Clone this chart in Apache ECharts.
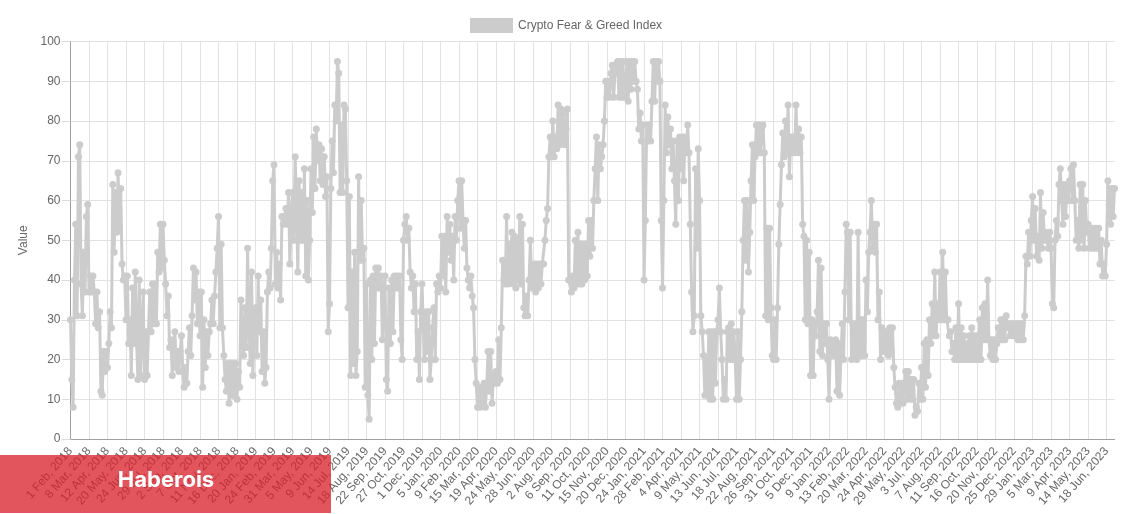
<!DOCTYPE html>
<html><head><meta charset="utf-8">
<style>html,body{margin:0;padding:0;background:#fff}#c{width:1131px;height:514px}</style>
<script src="https://cdn.jsdelivr.net/npm/echarts@6/dist/echarts.min.js"></script>
</head><body><div id="c"></div>
<script>
const seriesName = 'Crypto Fear & Greed Index';
const brand = 'Haberois';
const yTicks = [0,10,20,30,40,50,60,70,80,90,100];
const tickLabels = ['1 Feb, 2018','8 Mar, 2018','12 Apr, 2018','20 May, 2018','24 Jun, 2018','29 Jul, 2018','2 Sep, 2018','7 Oct, 2018','11 Nov, 2018','16 Dec, 2018','20 Jan, 2019','24 Feb, 2019','31 Mar, 2019','5 May, 2019','9 Jun, 2019','14 Jul, 2019','18 Aug, 2019','22 Sep, 2019','27 Oct, 2019','1 Dec, 2019','5 Jan, 2020','9 Feb, 2020','15 Mar, 2020','19 Apr, 2020','24 May, 2020','28 Jun, 2020','2 Aug, 2020','6 Sep, 2020','11 Oct, 2020','15 Nov, 2020','20 Dec, 2020','24 Jan, 2021','28 Feb, 2021','4 Apr, 2021','9 May, 2021','13 Jun, 2021','18 Jul, 2021','22 Aug, 2021','26 Sep, 2021','31 Oct, 2021','5 Dec, 2021','9 Jan, 2022','13 Feb, 2022','20 Mar, 2022','24 Apr, 2022','29 May, 2022','3 Jul, 2022','7 Aug, 2022','11 Sep, 2022','16 Oct, 2022','20 Nov, 2022','25 Dec, 2022','29 Jan, 2023','5 Mar, 2023','9 Apr, 2023','14 May, 2023','18 Jun, 2023'];
// fourteen readings per labelled tick span
const values2018 = [
30,15,8,40,54,31,71,74,39,31,47,37,56,59,
37,41,37,41,37,29,37,28,32,12,11,22,17,22,
18,24,32,28,64,47,62,52,67,53,63,44,40,41,
30,41,24,30,16,38,24,42,25,15,40,16,27,37,
15,27,16,27,37,27,39,29,39,29,47,42,54,43,
54,45,39,31,36,23,25,16,22,27,18,22,17,22,
26,17,13,18,14,22,28,21,31,43,35,42,29,37,
26,37,13,30,18,27,21,27,29,35,29,36,42,48,
56,28,49,28,21,15,12,19,9,19,11,19,11,19,
10,17,13,35,27,21,33,23,48,30,19,42,16,30];
const values2019 = [
33,21,41,27,35,17,27,14,18,37,42,38,48,65,
69,39,47,38,44,35,56,54,56,58,54,62,44,56,
62,50,71,59,42,65,50,62,50,68,41,60,40,50,
68,57,76,63,78,70,74,65,73,64,71,61,66,27,
34,63,75,67,84,80,95,92,62,79,62,84,83,65,
33,61,16,42,19,47,16,22,66,45,60,45,48,13,
39,11,5,40,20,41,24,43,38,43,38,41,25,38,
41,15,12,38,24,40,27,41,38,41,38,41,25,20,
50,54,56,50,53,42,38,41,32,39,20,27,15,32,
39,28,20,32,22,32,15,20,28,33,20,39,37,41];
const values2020 = [
38,51,41,51,37,56,47,54,45,51,40,56,50,60,
65,53,65,55,48,55,43,40,38,41,36,33,20,14,
8,12,8,13,9,14,8,14,22,12,22,9,16,14,
17,14,25,15,28,45,40,39,56,39,49,40,52,39,
51,38,50,40,56,39,54,33,31,36,31,40,50,38,
38,44,37,44,38,44,39,44,44,50,55,58,71,76,
71,80,71,76,73,84,74,83,75,82,74,78,83,40,
40,37,41,38,50,39,52,39,49,39,49,40,49,41,
55,46,55,48,60,68,76,60,74,68,71,74,80,90,
86,90,86,92,94,86,92,94,95,86,95,86,95,86];
const values2021 = [
87,95,85,95,88,95,90,95,90,88,78,82,75,79,
40,55,79,75,79,75,85,95,85,95,90,95,90,55,
38,60,84,72,81,74,78,68,75,65,54,75,60,76,
68,76,65,76,72,79,72,54,37,27,31,68,48,73,
60,31,27,21,11,20,11,27,10,27,10,27,14,27,
30,38,27,20,10,15,10,27,28,20,29,20,27,20,
10,27,10,20,32,50,60,45,60,42,52,65,74,60,
71,79,72,79,72,78,79,72,31,53,30,53,33,21,
20,30,20,33,49,59,69,77,71,80,72,84,66,76,
72,76,72,84,72,78,72,76,54,51,30,50,29,47,
16,30,16,29,26,32,45,22,43,21,29,24,29,20];
const values2022 = [
10,25,21,24,21,25,12,24,11,21,29,20,37,54,
52,30,52,20,29,21,29,20,52,21,30,21,30,21,
40,32,47,52,60,48,54,47,54,30,37,20,28,22,
27,22,27,21,28,22,28,18,13,9,8,14,9,14,
9,14,17,10,17,10,15,10,15,6,8,7,14,10,
18,10,24,13,25,16,30,24,34,26,42,26,34,30,
42,30,47,30,42,30,30,26,27,22,24,20,28,20,
34,20,28,20,26,20,24,20,26,20,28,20,26,20,
26,20,30,20,33,25,34,25,40,25,21,25,20,25,
20,24,28,26,30,25,30,25,31,28,29,26,29,26];
const values2023 = [
29,26,29,25,29,25,29,25,31,46,44,52,46,55,
61,50,58,46,51,45,62,48,57,50,52,50,48,52,
48,34,33,50,55,51,64,68,60,54,64,56,63,60,
65,68,60,69,60,50,55,48,64,50,64,48,60,52,
54,48,52,48,53,48,53,48,53,44,50,41,44,41,
49,65,59,54,63,56,63];
const values = [].concat(values2018,values2019,values2020,values2021,values2022,values2023);
const perTick = 14;
const categories = values.map((_,i)=> i%perTick===0 ? (tickLabels[i/perTick]||'') : '');
const grey='#666', mark='#cccccc';
const font='"Liberation Sans", Arial, sans-serif';
const chart = echarts.init(document.getElementById('c'),null,{renderer:'canvas'});
chart.setOption({
  animation:false,
  legend:{top:13,left:465,itemWidth:43,itemHeight:15,itemGap:5,icon:'rect',
    textStyle:{color:grey,fontFamily:font,fontSize:12},data:[seriesName]},
  grid:{left:70.5,top:41.5,width:1044,height:397.5,containLabel:false},
  xAxis:{type:'category',data:categories,boundaryGap:false,
    axisLine:{lineStyle:{color:'#a0a0a0',width:1}},axisTick:{show:false},
    axisLabel:{interval:perTick-1,rotate:49,color:grey,fontFamily:font,fontSize:12,margin:10,hideOverlap:false},
    splitLine:{show:true,interval:perTick-1,lineStyle:{color:'#e2e2e2',width:1}}},
  yAxis:{type:'value',min:yTicks[0],max:yTicks[yTicks.length-1],interval:10,
    name:'Value',nameLocation:'middle',nameGap:41,nameRotate:90,
    nameTextStyle:{color:grey,fontFamily:font,fontSize:12},
    axisLine:{show:true,lineStyle:{color:'#a0a0a0',width:1}},
    axisTick:{show:true,length:9,lineStyle:{color:'#dcdcdc'}},
    axisLabel:{color:grey,fontFamily:font,fontSize:12,margin:10},
    splitLine:{show:true,lineStyle:{color:'#e2e2e2',width:1}}},
  series:[{name:seriesName,type:'line',data:values,
    lineStyle:{color:mark,width:3},itemStyle:{color:mark},
    symbol:'circle',symbolSize:7,showSymbol:true,showAllSymbol:true,
    sampling:null,emphasis:{disabled:true}}],
  graphic:[{type:'group',silent:true,z:100,children:[
    {type:'rect',shape:{x:0,y:455,width:331,height:58},style:{fill:'rgba(217,34,43,0.77)'},z:100},
    {type:'text',style:{x:166,y:480,text:brand,fill:'#fff',font:'700 22px Inter, sans-serif',textAlign:'center',textVerticalAlign:'middle'},z:101}
  ]}]
});
</script></body></html>
